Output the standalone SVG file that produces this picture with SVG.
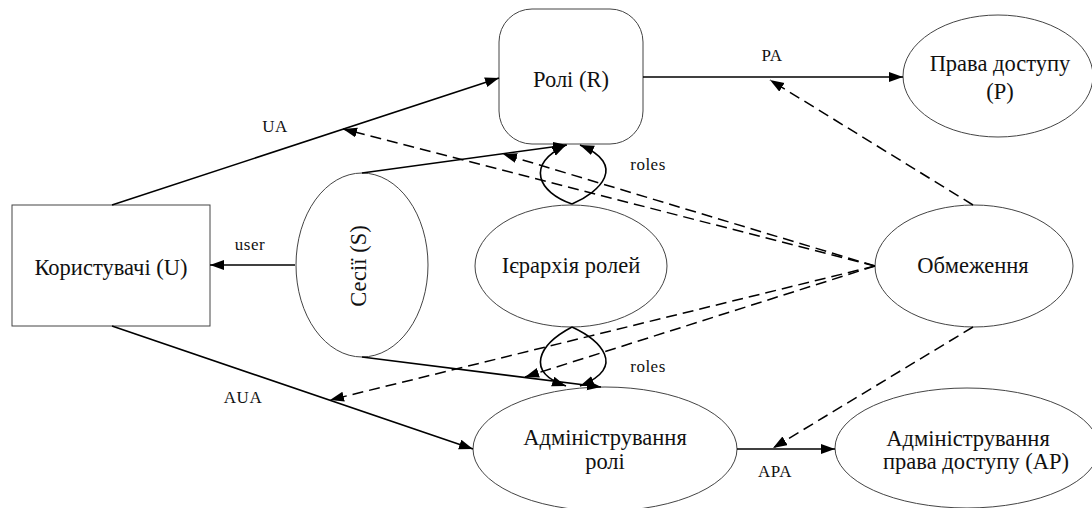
<svg xmlns="http://www.w3.org/2000/svg" width="1092" height="508" viewBox="0 0 1092 508">
<style>
.node{fill:#fff;stroke:#444;stroke-width:1}
.t{font-family:"Liberation Serif","Times New Roman",serif;font-size:22.5px;fill:#111;text-anchor:middle}
.l{font-family:"Liberation Serif","Times New Roman",serif;font-size:17px;fill:#111;text-anchor:middle;letter-spacing:0.5px}
.c{fill:none;stroke:#000;stroke-width:1.6}
.d{fill:none;stroke:#000;stroke-width:1.5;stroke-dasharray:11 6}
</style>
<defs>
<marker id="a" markerUnits="userSpaceOnUse" markerWidth="16" markerHeight="12" refX="14" refY="5" orient="auto">
<path d="M0,0 L14,5 L0,10 z" fill="#000"/>
</marker>
</defs>
<rect width="1092" height="508" fill="#fff"/>
<g id="users"><rect class="node" x="12" y="205" width="198" height="121"/><text class="t" x="111" y="275">Користувачі (U)</text></g>
<g id="roles"><rect class="node" x="499" y="9" width="144" height="135" rx="33"/><text class="t" x="571" y="87">Ролі (R)</text></g>
<g id="permissions"><ellipse class="node" cx="998" cy="76" rx="95" ry="61"/><text class="t" x="1000" y="71">Права доступу</text><text class="t" x="1000" y="99">(P)</text></g>
<g id="sessions"><ellipse class="node" cx="362" cy="265" rx="66" ry="92"/><text class="t" transform="translate(366,266) rotate(-90)">Сесії (S)</text></g>
<g id="hierarchy"><ellipse class="node" cx="571" cy="266" rx="96" ry="61"/><text class="t" x="571" y="273">Ієрархія ролей</text></g>
<g id="constraints"><ellipse class="node" cx="974" cy="266" rx="99" ry="61"/><text class="t" x="973" y="273">Обмеження</text></g>
<g id="adminroles"><ellipse class="node" cx="605" cy="449" rx="132" ry="62"/><text class="t" x="605" y="445">Адміністрування</text><text class="t" x="605" y="469">ролі</text></g>
<g id="adminperm"><ellipse class="node" cx="967" cy="448" rx="132" ry="60"/><text class="t" x="968" y="446">Адміністрування</text><text class="t" x="976" y="469">права доступу (AP)</text></g>
<g id="connectors">
<line class="c" x1="112" y1="205" x2="499" y2="78" marker-end="url(#a)"/>
<line class="c" x1="643" y1="77" x2="903" y2="77" marker-end="url(#a)"/>
<line class="c" x1="295" y1="265" x2="210" y2="265" marker-end="url(#a)"/>
<line class="c" x1="362" y1="173" x2="567" y2="145" marker-end="url(#a)"/>
<path class="c" d="M572,204 C538,192 525,165 566,145" marker-end="url(#a)"/>
<path class="c" d="M572,204 C600,192 628,165 580,145" marker-end="url(#a)"/>
<line class="c" x1="362" y1="357" x2="601" y2="387" marker-end="url(#a)"/>
<path class="c" d="M572,327 C538,345 525,372 566,386" marker-end="url(#a)"/>
<path class="c" d="M572,327 C600,340 628,367 580,386" marker-end="url(#a)"/>
<line class="c" x1="112" y1="326" x2="473" y2="449" marker-end="url(#a)"/>
<line class="c" x1="737" y1="449" x2="835" y2="449" marker-end="url(#a)"/>
<line class="d" x1="875" y1="266" x2="343" y2="129" marker-end="url(#a)"/>
<line class="d" x1="875" y1="266" x2="503" y2="154" marker-end="url(#a)"/>
<line class="d" x1="875" y1="266" x2="330" y2="400" marker-end="url(#a)"/>
<line class="d" x1="875" y1="266" x2="525" y2="377" marker-end="url(#a)"/>
<line class="d" x1="973" y1="205" x2="770" y2="80" marker-end="url(#a)"/>
<line class="d" x1="973" y1="327" x2="773" y2="448" marker-end="url(#a)"/>
<text class="l" x="275" y="132">UA</text>
<text class="l" x="772" y="61">PA</text>
<text class="l" x="250" y="250">user</text>
<text class="l" x="648" y="170">roles</text>
<text class="l" x="648" y="372">roles</text>
<text class="l" x="243" y="403">AUA</text>
<text class="l" x="775" y="477">APA</text>
</g>
</svg>
